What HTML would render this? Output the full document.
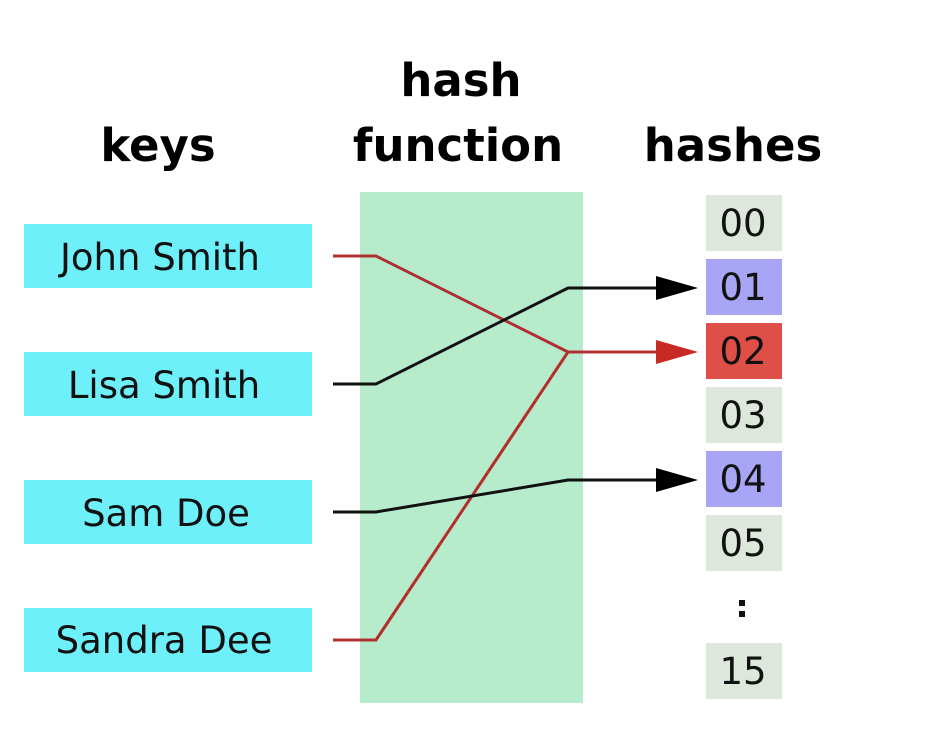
<!DOCTYPE html>
<html><head><style>
body{margin:0;background:#fff;width:952px;height:728px;overflow:hidden}
</style></head><body>
<svg width="952" height="728" xmlns="http://www.w3.org/2000/svg" font-family="DejaVu Sans, Liberation Sans, sans-serif">
<g font-weight="bold" font-size="45" text-anchor="middle" fill="#000">
<text x="158" y="161">keys</text>
<text x="461" y="96">hash</text>
<text x="458" y="161">function</text>
<text x="733" y="161">hashes</text>
</g>
<rect x="360" y="192" width="223" height="511" fill="#b6ebcc"/>
<g fill="#6ef0fa">
<rect x="24" y="224" width="288" height="64"/>
<rect x="24" y="352" width="288" height="64"/>
<rect x="24" y="480" width="288" height="64"/>
<rect x="24" y="608" width="288" height="64"/>
</g>
<g font-size="37" text-anchor="middle" fill="#111">
<text x="160" y="270">John Smith</text>
<text x="164" y="398">Lisa Smith</text>
<text x="166" y="526">Sam Doe</text>
<text x="164" y="653">Sandra Dee</text>
</g>
<g>
<rect x="706" y="195" width="76" height="56" fill="#dde7dc"/>
<rect x="706" y="259" width="76" height="56" fill="#a8a4f6"/>
<rect x="706" y="323" width="76" height="56" fill="#de4f48"/>
<rect x="706" y="387" width="76" height="56" fill="#dde7dc"/>
<rect x="706" y="451" width="76" height="56" fill="#a8a4f6"/>
<rect x="706" y="515" width="76" height="56" fill="#dde7dc"/>
<rect x="706" y="643" width="76" height="56" fill="#dde7dc"/>
</g>
<g font-size="37" text-anchor="middle" fill="#111">
<text x="743" y="236">00</text>
<text x="743" y="300">01</text>
<text x="743" y="364">02</text>
<text x="743" y="428">03</text>
<text x="743" y="492">04</text>
<text x="743" y="556">05</text>
<text x="743" y="684">15</text>
</g>
<rect x="739" y="600" width="6" height="6" fill="#111"/>
<rect x="739" y="611" width="6" height="6" fill="#111"/>
<g fill="none" stroke-width="3">
<polyline points="333,256 376,256 568,352 665,352" stroke="#b03030"/>
<polyline points="333,640 376,640 568,352" stroke="#b03030"/>
<polyline points="333,384 376,384 568,288 665,288" stroke="#111"/>
<polyline points="333,512 376,512 568,480 665,480" stroke="#111"/>
</g>
<polygon points="656,276 698,288 656,300" fill="#000"/>
<polygon points="656,340 698,352 656,364" fill="#c62a22"/>
<polygon points="656,468 698,480 656,492" fill="#000"/>
</svg>
</body></html>
